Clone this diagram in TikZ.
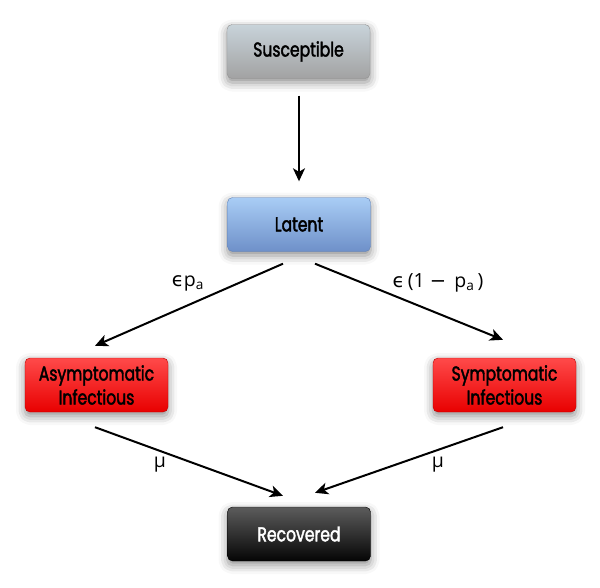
\documentclass[tikz,border=0pt]{standalone}
\usepackage{fontspec}
\usetikzlibrary{shadows.blur,arrows.meta,calc}
\newfontfamily\boxfont[FakeStretch=0.78,FakeBold=2]{Poppins}
\newfontfamily\labfont{Open Sans}
\newfontfamily\symfont{DejaVu Sans}
\definecolor{grtop}{HTML}{C8D3DA}
\definecolor{grbot}{HTML}{A2A2A2}
\definecolor{bltop}{HTML}{A9CDF5}
\definecolor{blbot}{HTML}{6E90C9}
\definecolor{rdtop}{HTML}{FF4A4A}
\definecolor{rdbot}{HTML}{E80000}
\definecolor{bktop}{HTML}{5C5C5C}
\definecolor{bkbot}{HTML}{050505}
\tikzset{
  compbox/.style={rounded corners=5pt, minimum width=143pt, minimum height=54pt,
    align=center, font=\boxfont\fontsize{20}{24}\selectfont, text=black,
    blur shadow={shadow xshift=0pt, shadow yshift=-4pt, shadow blur radius=9pt, shadow opacity=45}},
  greybox/.style={compbox, top color=grtop, bottom color=grbot, draw=grbot!90!black, line width=0.4pt},
  bluebox/.style={compbox, top color=bltop, bottom color=blbot, draw=blbot!90!black, line width=0.4pt},
  redbox/.style={compbox, top color=rdtop, bottom color=rdbot, draw=rdbot!80!black, line width=0.4pt},
  blackbox/.style={compbox, top color=bktop, bottom color=bkbot, draw=black, text=white, line width=0.4pt},
  flow/.style={line width=2pt, -{Stealth[length=13pt,width=12pt,inset=3.5pt]}},
  rate/.style={font=\labfont\fontsize{19.5}{22}\selectfont, inner sep=0pt}
}
\begin{document}
\begin{tikzpicture}[x=1pt,y=-1pt]
\useasboundingbox (0,0) rectangle (600,587);
\node[greybox] (S) at (298.5,51.5) {Susceptible};
\node[bluebox] (L) at (299,224.5) {Latent};
\node[redbox] (A) at (96.5,385) {Asymptomatic\\Infectious};
\node[redbox] (Y) at (504.5,385) {Symptomatic\\Infectious};
\node[blackbox] (R) at (299,534) {Recovered};

\draw[flow] ($(S.south)+(0.5,17)$) -- ($(L.north)+(0,-16)$);
\draw[flow] ($(L.south)+(-16,12)$) -- ($(A.north)+(-1.5,-12)$);
\draw[flow] ($(L.south)+(16,12)$) -- ($(Y.north)+(-1.5,-18)$);
\draw[flow] ($(A.south)+(-1.5,15)$) -- ($(R.north)+(-16,-11)$);
\draw[flow] ($(Y.south)+(-1.5,15)$) -- ($(R.north)+(16,-14)$);

\node[rate] (la) at (188,283) {{\symfont ϵ}p\textsubscript{a}};
\node[rate] (ly) at (438,283) {{\symfont ϵ}\,(1 {\symfont −}\, p\textsubscript{a}\,)};
\node[rate] (ma) at (160,465) {μ};
\node[rate] (my) at (438,465) {μ};
\end{tikzpicture}
\end{document}
